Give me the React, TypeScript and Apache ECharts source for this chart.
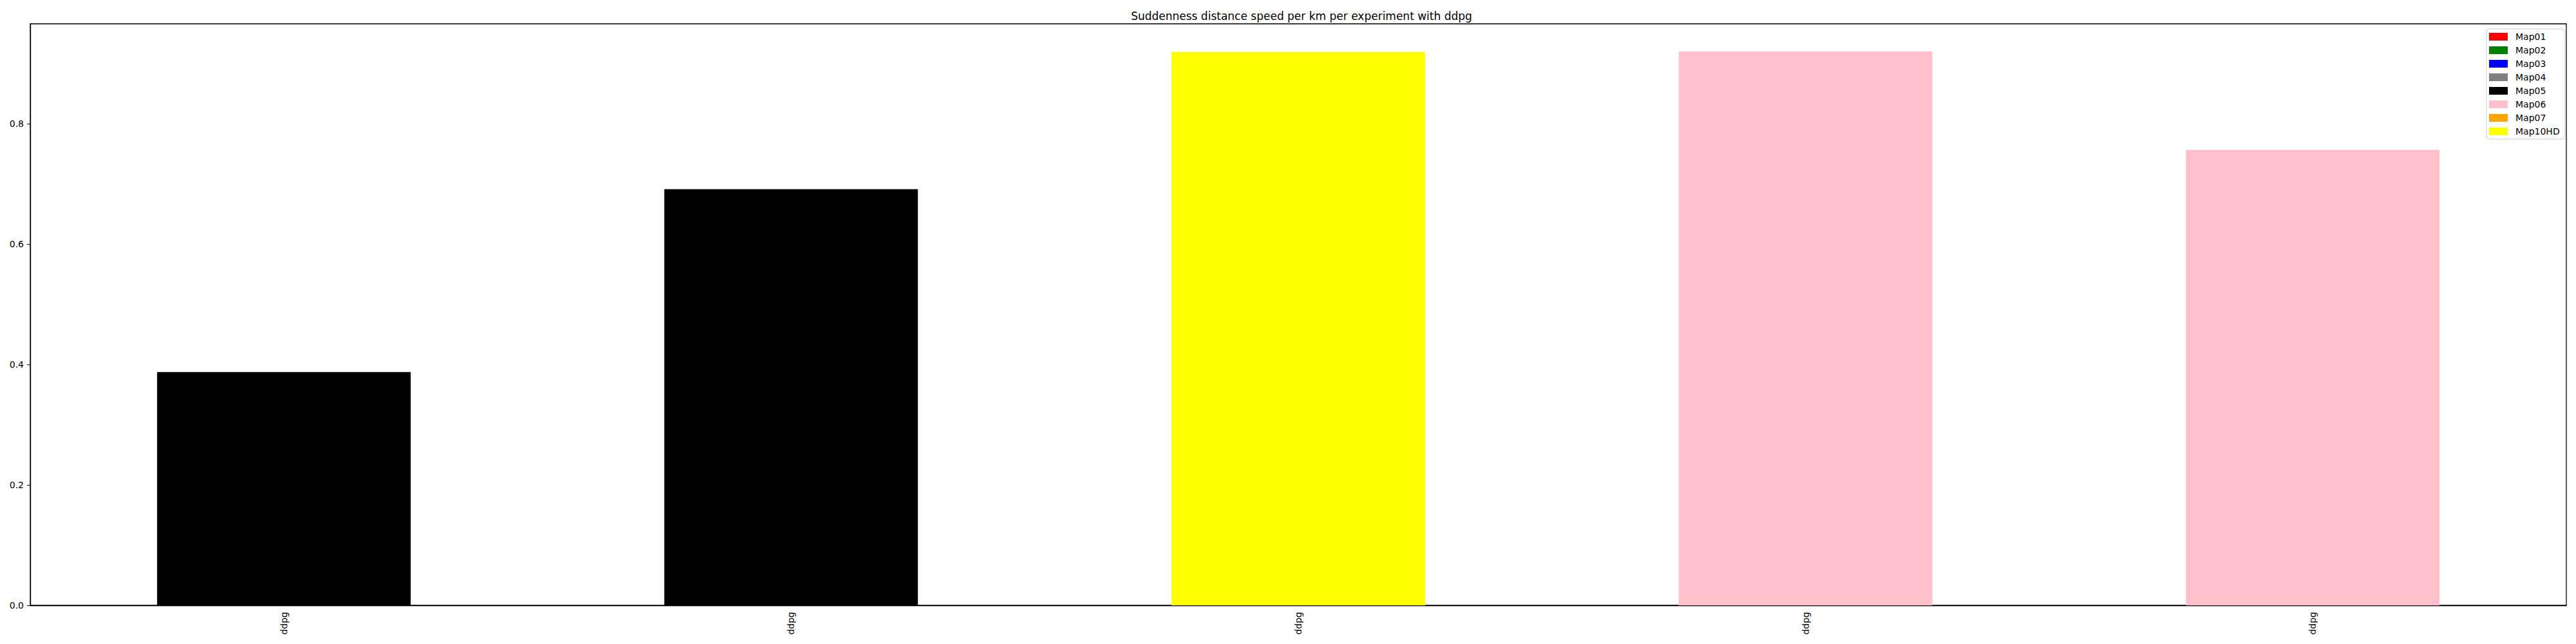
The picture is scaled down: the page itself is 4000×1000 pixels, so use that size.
import React, { useEffect, useRef } from "react";
import * as echarts from "echarts";

const TITLE = "Suddenness distance speed per km per experiment with ddpg";
const categories = ["ddpg", "ddpg", "ddpg", "ddpg", "ddpg"];
const values = [0.3875, 0.6914, 0.9194, 0.9205, 0.7567];
const barMaps = ["Map05", "Map05", "Map10HD", "Map06", "Map06"];
const legendNames = ["Map01", "Map02", "Map03", "Map04", "Map05", "Map06", "Map07", "Map10HD"];
const legendColors = ["#ff0000", "#008000", "#0000ff", "#808080", "#000000", "#ffc0cb", "#ffa500", "#ffff00"];
const yTicks = [0, 0.2, 0.4, 0.6, 0.8];
const yMax = 0.9662;

const FONT = "DejaVu Sans";

export default function App() {
  const ref = useRef<HTMLDivElement>(null);
  useEffect(() => {
    if (!ref.current) return;
    const chart = echarts.init(ref.current, undefined, { renderer: "svg" });
    const series = legendNames.map((name, k) => ({
      name,
      type: "bar",
      stack: "all",
      barWidth: "50%",
      itemStyle: { color: legendColors[k] },
      data: values.map((v, i) => (barMaps[i] === name ? v : null)),
    }));
    chart.setOption({
      animation: false,
      backgroundColor: "#ffffff",
      textStyle: { fontFamily: FONT },
      title: {
        text: TITLE,
        left: 2016,
        top: 11,
        textAlign: "center",
        textStyle: { fontFamily: FONT, fontSize: 17, fontWeight: "normal", color: "#000" },
      },
      legend: {
        orient: "vertical",
        left: 3861,
        top: 45,
        icon: "rect",
        itemWidth: 29,
        itemHeight: 12,
        itemGap: 7,
        padding: [5, 8, 5, 4],
        borderColor: "#cccccc",
        borderWidth: 1,
        borderRadius: 4,
        backgroundColor: "#ffffff",
        selectedMode: false,
        data: legendNames,
        textStyle: { fontFamily: FONT, fontSize: 14, lineHeight: 14, color: "#000", padding: [0, 0, 0, 7] },
      },
      grid: {
        left: 47,
        right: 15,
        top: 37,
        bottom: 60,
        show: true,
        borderColor: "#000",
        borderWidth: 1.3,
        containLabel: false,
      },
      xAxis: {
        type: "category",
        data: categories,
        axisLine: { lineStyle: { color: "#000", width: 1.3 } },
        axisTick: { alignWithLabel: true, length: 5, lineStyle: { color: "#000" } },
        axisLabel: { rotate: 90, margin: 10, fontFamily: FONT, fontSize: 14, color: "#000" },
        splitLine: { show: false },
      },
      yAxis: {
        type: "value",
        min: 0,
        max: yMax,
        interval: 0.2,
        axisLine: { show: true, lineStyle: { color: "#000", width: 1.3 } },
        axisTick: { show: true, length: 5, lineStyle: { color: "#000" } },
        axisLabel: {
          margin: 10,
          fontFamily: FONT,
          fontSize: 14,
          color: "#000",
          showMaxLabel: false,
          formatter: (v: number) => (yTicks.some((t) => Math.abs(t - v) < 1e-6) ? v.toFixed(1) : ""),
        },
        splitLine: { show: false },
      },
      series,
    });
    return () => chart.dispose();
  }, []);
  return (
    <div
      ref={ref}
      style={{ position: "absolute", left: 0, top: 0, width: 4000, height: 1000, background: "#fff" }}
    />
  );
}
